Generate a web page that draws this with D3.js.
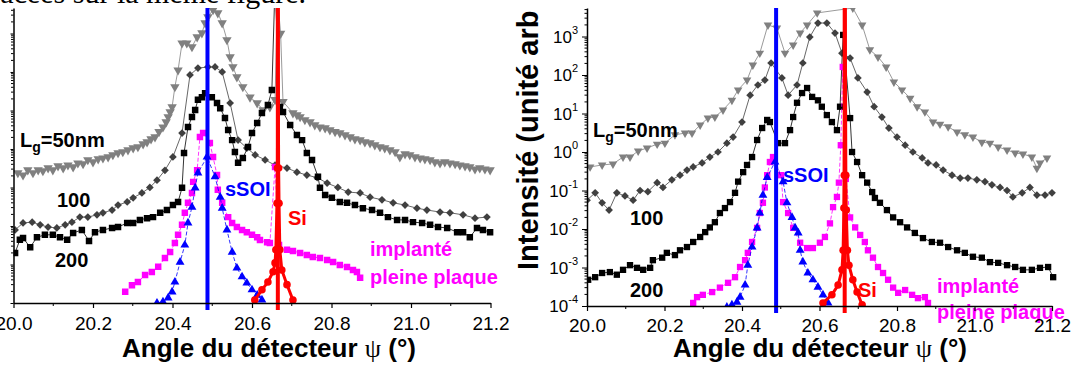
<!DOCTYPE html>
<html><head><meta charset="utf-8">
<script src="https://cdn.jsdelivr.net/npm/d3@7"></script>
<style>body{margin:0;background:#fff}svg{display:block}</style>
</head><body>
<svg id="c" width="1075" height="367"></svg>
<script>
// ---------- DATA ----------
const xMajor = [20.0, 20.2, 20.4, 20.6, 20.8, 21.0, 21.2];
const xMinor = [20.1, 20.3, 20.5, 20.7, 20.9, 21.1];
const yMajor = [1e-4, 1e-3, 1e-2, 1e-1, 1e0, 1e1, 1e2, 1e3];
const yExpLabels = ["-4", "-3", "-2", "-1", "0", "1", "2", "3"];
const sSOIRef = 20.488;
const siRef = 20.665;

// Left panel
const leftLg50 = [[20.011,0.24],[20.024,0.21],[20.036,0.285],[20.049,0.24],[20.062,0.285],[20.074,0.27],[20.087,0.32],[20.099,0.285],[20.112,0.36],[20.125,0.32],[20.137,0.38],[20.150,0.34],[20.162,0.43],[20.175,0.41],[20.187,0.52],[20.200,0.46],[20.213,0.55],[20.225,0.58],[20.238,0.62],[20.250,0.70],[20.263,0.79],[20.275,0.84],[20.288,0.94],[20.301,1.06],[20.313,1.13],[20.326,1.35],[20.336,1.52],[20.346,1.82],[20.356,2.05],[20.366,2.8],[20.376,3.7],[20.384,5.0],[20.389,6.8],[20.394,9.1],[20.399,12.3],[20.406,41],[20.414,112],[20.424,560],[20.436,560],[20.449,450],[20.462,810],[20.474,1030],[20.482,1870],[20.489,2700],[20.502,4100],[20.514,3400],[20.525,1870],[20.537,680],[20.545,245],[20.552,135],[20.562,74],[20.577,41],[20.595,22],[20.613,15.6],[20.628,10.3],[20.645,12.3],[20.658,19],[20.664,9000],[20.672,1000],[20.678,17],[20.703,8.6],[20.713,7.6],[20.721,6.8],[20.733,5.7],[20.746,5.0],[20.758,4.2],[20.771,3.7],[20.784,3.5],[20.796,3.1],[20.809,2.8],[20.821,2.6],[20.834,2.3],[20.847,2.05],[20.859,1.82],[20.872,1.71],[20.884,1.52],[20.897,1.43],[20.909,1.27],[20.922,1.13],[20.934,1.06],[20.947,0.94],[20.960,0.84],[20.972,0.62],[20.985,0.74],[20.997,0.70],[21.010,0.62],[21.023,0.58],[21.035,0.55],[21.048,0.52],[21.060,0.46],[21.073,0.43],[21.085,0.46],[21.098,0.43],[21.111,0.41],[21.123,0.38],[21.136,0.36],[21.148,0.34],[21.161,0.30],[21.173,0.32],[21.186,0.30],[21.199,0.285]];
const leftL100 = [[20.004,0.0079],[20.024,0.012],[20.047,0.0126],[20.067,0.0107],[20.087,0.0094],[20.109,0.0089],[20.130,0.0107],[20.147,0.0126],[20.167,0.017],[20.187,0.017],[20.210,0.0195],[20.225,0.022],[20.248,0.026],[20.263,0.035],[20.286,0.042],[20.301,0.054],[20.323,0.072],[20.343,0.10],[20.361,0.155],[20.381,0.28],[20.401,0.62],[20.424,2.6],[20.444,84],[20.464,126],[20.489,135],[20.507,135],[20.525,100],[20.545,15.6],[20.565,1.7],[20.587,1.06],[20.608,0.70],[20.633,0.52],[20.658,0.38],[20.688,0.32],[20.713,0.25],[20.738,0.21],[20.764,0.18],[20.789,0.13],[20.816,0.10],[20.842,0.076],[20.872,0.072],[20.897,0.056],[20.927,0.048],[20.955,0.040],[20.985,0.035],[21.015,0.029],[21.040,0.026],[21.073,0.023],[21.098,0.022],[21.131,0.0195],[21.161,0.016],[21.191,0.017]];
const leftL200 = [[20.004,0.0020],[20.016,0.0044],[20.024,0.0049],[20.042,0.0028],[20.059,0.0051],[20.079,0.0059],[20.099,0.0059],[20.117,0.0051],[20.135,0.0044],[20.150,0.0066],[20.172,0.0079],[20.190,0.0041],[20.205,0.0069],[20.225,0.0079],[20.248,0.0089],[20.263,0.0094],[20.286,0.012],[20.301,0.012],[20.318,0.0144],[20.336,0.016],[20.351,0.017],[20.369,0.022],[20.386,0.026],[20.401,0.035],[20.414,0.042],[20.424,0.098],[20.429,0.79],[20.439,3.7],[20.449,6.8],[20.457,10.3],[20.464,19],[20.474,22],[20.482,28],[20.499,22],[20.512,15.6],[20.520,11.5],[20.532,6.4],[20.540,3.1],[20.550,1.7],[20.557,0.83],[20.565,0.44],[20.577,0.58],[20.590,1.13],[20.600,2.6],[20.613,4.7],[20.625,8.6],[20.640,13.8],[20.650,34],[20.658,20000],[20.670,12.3],[20.678,9.1],[20.696,4.2],[20.713,2.3],[20.726,1.7],[20.738,0.79],[20.751,0.52],[20.766,0.19],[20.771,0.098],[20.784,0.064],[20.801,0.054],[20.821,0.042],[20.839,0.040],[20.859,0.035],[20.879,0.029],[20.902,0.026],[20.922,0.022],[20.942,0.017],[20.965,0.0144],[20.985,0.0144],[21.005,0.0126],[21.028,0.012],[21.048,0.0107],[21.068,0.0094],[21.091,0.0089],[21.116,0.0069],[21.131,0.0069],[21.148,0.0051],[21.166,0.0089],[21.181,0.0079],[21.199,0.0069]];
const leftImplant = [[20.281,1.95e-4],[20.298,2.9e-4],[20.313,3.5e-4],[20.331,5.3e-4],[20.348,6.4e-4],[20.364,8.7e-4],[20.381,1.47e-3],[20.394,2.1e-3],[20.406,3.6e-3],[20.414,5.9e-3],[20.424,0.0107],[20.431,0.022],[20.439,0.040],[20.449,0.072],[20.452,0.14],[20.462,0.28],[20.469,2.05],[20.477,2.6],[20.494,1.43],[20.502,0.62],[20.512,0.21],[20.514,0.087],[20.525,0.040],[20.540,0.017],[20.550,0.012],[20.562,0.0094],[20.575,0.0079],[20.587,0.0069],[20.600,0.0059],[20.613,0.0051],[20.620,0.0043],[20.638,0.0038],[20.645,0.0036],[20.658,0.34],[20.668,0.0032],[20.688,0.0024],[20.703,0.00224],[20.721,0.0020],[20.738,0.00177],[20.753,0.00157],[20.771,0.00148],[20.789,0.00131],[20.804,0.00116],[20.821,0.00097],[20.839,0.00086],[20.854,0.00072],[20.864,0.00064],[20.872,0.00045]];
const leftSSOI = [[20.361,1.0e-4],[20.376,1.07e-4],[20.389,1.35e-4],[20.399,1.95e-4],[20.406,3.5e-4],[20.419,1.15e-3],[20.431,3.2e-3],[20.439,0.012],[20.449,0.031],[20.457,0.098],[20.464,0.24],[20.487,0.62],[20.507,0.19],[20.520,0.056],[20.525,0.029],[20.537,0.0079],[20.550,0.0021],[20.562,8.1e-4],[20.575,4.8e-4],[20.587,3.3e-4],[20.600,2.2e-4],[20.613,1.6e-4],[20.625,1.2e-4]];
const leftSi = [[20.607,1.2e-4],[20.625,2.2e-4],[20.640,3.5e-4],[20.653,6.5e-4],[20.658,1.1e-3],[20.660,2.4e-3],[20.663,0.039],[20.664,0.32],[20.665,1e5],[20.667,0.32],[20.668,0.039],[20.670,2.4e-3],[20.675,7.2e-4],[20.688,3e-4],[20.703,1.2e-4]];

// Right panel
const rightLg50 = [[20.008,0.41],[20.039,0.46],[20.067,0.49],[20.093,0.74],[20.111,0.74],[20.132,1.06],[20.155,1.27],[20.181,1.6],[20.201,1.7],[20.227,2.8],[20.253,3.1],[20.271,3.1],[20.292,5.0],[20.312,7.6],[20.330,8.1],[20.351,12.3],[20.374,22],[20.390,41],[20.413,74],[20.428,182],[20.446,370],[20.467,2000],[20.490,1660],[20.511,370],[20.532,600],[20.550,1230],[20.568,2000],[20.594,4100],[20.686,5500],[20.710,2000],[20.730,450],[20.751,295],[20.772,162],[20.792,66],[20.813,41],[20.834,25],[20.852,15],[20.872,11],[20.893,6.0],[20.911,5.3],[20.932,4.5],[20.955,3.3],[20.975,2.8],[20.996,2.45],[21.019,1.8],[21.040,1.7],[21.061,1.35],[21.084,1.13],[21.105,0.94],[21.125,0.89],[21.148,0.74],[21.161,0.38],[21.169,0.52],[21.187,0.70]];
const rightL100 = [[20.000,0.056],[20.021,0.087],[20.039,0.048],[20.057,0.031],[20.077,0.087],[20.098,0.072],[20.119,0.056],[20.137,0.10],[20.157,0.093],[20.181,0.16],[20.196,0.12],[20.219,0.19],[20.240,0.25],[20.258,0.34],[20.274,0.41],[20.297,0.52],[20.317,0.74],[20.338,1.0],[20.361,1.7],[20.377,2.45],[20.400,6.0],[20.421,30],[20.441,55],[20.459,74],[20.475,205],[20.503,84],[20.519,30],[20.542,55],[20.557,205],[20.575,970],[20.596,2240],[20.619,2240],[20.640,1230],[20.658,370],[20.679,275],[20.699,84],[20.723,36],[20.741,15],[20.761,8.1],[20.779,4.2],[20.800,2.45],[20.821,1.5],[20.841,1.0],[20.865,0.70],[20.880,0.52],[20.901,0.46],[20.919,0.34],[20.942,0.25],[20.963,0.21],[20.983,0.21],[21.006,0.19],[21.027,0.17],[21.045,0.14],[21.066,0.12],[21.084,0.10],[21.099,0.068],[21.123,0.087],[21.143,0.12],[21.161,0.076],[21.182,0.076],[21.200,0.087]];
const rightL200 = [[20.003,4.8e-4],[20.021,5.6e-4],[20.039,7.2e-4],[20.059,7.6e-4],[20.077,6.5e-4],[20.093,8.7e-4],[20.111,1.15e-3],[20.129,9.8e-4],[20.145,8.7e-4],[20.163,9.8e-4],[20.170,1.55e-3],[20.194,1.8e-3],[20.206,2.4e-3],[20.227,2.1e-3],[20.240,2.8e-3],[20.258,3.4e-3],[20.274,4.6e-3],[20.292,6.2e-3],[20.305,8.3e-3],[20.317,0.011],[20.330,0.015],[20.343,0.026],[20.356,0.035],[20.369,0.050],[20.382,0.087],[20.390,0.17],[20.403,0.30],[20.413,0.46],[20.426,0.74],[20.439,2.05],[20.452,4.2],[20.465,6.8],[20.472,6.0],[20.493,1.7],[20.511,1.7],[20.524,3.7],[20.532,8.1],[20.542,19],[20.555,34],[20.568,46],[20.581,27],[20.596,22],[20.606,15],[20.619,9.1],[20.632,6.0],[20.645,3.7],[20.653,15],[20.661,1100],[20.679,7.6],[20.684,1.0],[20.697,0.55],[20.710,0.25],[20.723,0.16],[20.736,0.091],[20.743,0.064],[20.756,0.048],[20.774,0.031],[20.790,0.020],[20.808,0.015],[20.826,0.011],[20.846,0.0079],[20.867,0.0058],[20.890,0.0046],[20.911,0.0044],[20.932,0.0034],[20.955,0.0028],[20.975,0.0024],[20.996,0.0019],[21.019,0.0018],[21.040,0.00138],[21.061,0.00132],[21.084,0.00115],[21.105,0.00103],[21.125,0.00087],[21.148,0.00087],[21.169,0.00098],[21.190,0.00103],[21.203,0.00056]];
const rightImplant = [[20.274,1.2e-4],[20.284,1.7e-4],[20.299,1.95e-4],[20.323,2.3e-4],[20.343,3.0e-4],[20.364,4.0e-4],[20.382,5.6e-4],[20.395,1.03e-3],[20.408,1.55e-3],[20.415,2.4e-3],[20.426,4.6e-3],[20.439,0.0107],[20.446,0.026],[20.454,0.048],[20.459,0.12],[20.465,0.25],[20.472,0.55],[20.480,0.74],[20.501,0.25],[20.506,0.050],[20.519,0.026],[20.532,0.0107],[20.550,0.0044],[20.568,0.0032],[20.583,0.0032],[20.601,0.0044],[20.614,0.0062],[20.627,0.014],[20.635,0.037],[20.645,0.068],[20.650,0.16],[20.655,1.5],[20.660,162],[20.668,0.2],[20.679,0.020],[20.692,0.011],[20.705,0.0070],[20.717,0.0046],[20.725,0.0028],[20.738,0.0018],[20.751,0.00103],[20.764,0.00072],[20.777,0.00048],[20.790,0.0003],[20.803,0.00022],[20.821,0.00026],[20.839,0.000195],[20.854,0.00016],[20.872,0.00017],[20.880,0.00012]];
const rightSSOI = [[20.361,9.3e-5],[20.374,1.07e-4],[20.387,1.26e-4],[20.395,1.7e-4],[20.408,3.5e-4],[20.415,1.15e-3],[20.426,3.4e-3],[20.439,0.0107],[20.446,0.026],[20.454,0.076],[20.465,0.22],[20.485,0.55],[20.506,0.17],[20.516,0.048],[20.529,0.020],[20.537,0.0107],[20.545,0.0079],[20.550,0.0028],[20.557,0.0014],[20.570,7.2e-4],[20.583,4.8e-4],[20.596,3.1e-4],[20.609,1.95e-4],[20.622,1.2e-4]];
const rightSi = [[20.609,1.2e-4],[20.632,1.95e-4],[20.648,3.5e-4],[20.658,8.7e-4],[20.661,2.8e-3],[20.663,0.035],[20.664,0.25],[20.666,1e5],[20.668,0.25],[20.669,0.031],[20.672,2.8e-3],[20.676,1.15e-3],[20.686,4.8e-4],[20.697,2.3e-4],[20.710,1.07e-4]];

// ---------- DRAWING ----------
const svg = d3.select("#c");
const SANS = "'Liberation Sans', Arial, Helvetica, sans-serif";
const SERIF = "'Liberation Serif', 'Times New Roman', serif";

// document text cropped at top
svg.append("text").attr("x", 306).attr("y", 3).attr("text-anchor", "end")
  .attr("font-family", SERIF).attr("font-size", 30).text("tracées sur la même figure.");

const stylesL = {
  lg50: {type: d3.symbolTriangle, size: 38, rot: 180, color: "#808080", lw: 0.8},
  l100: {type: d3.symbolSquare, size: 30, rot: 45, color: "#404040", lw: 0.8},
  l200: {type: d3.symbolSquare, size: 42, rot: 0, color: "#000000", lw: 0.8},
  impl: {type: d3.symbolSquare, size: 42, rot: 0, color: "#ff00ff", lw: 0.8, dash: "4,2"},
  ssoi: {type: d3.symbolTriangle, size: 34, rot: 0, color: "#0000ff", lw: 0.8, dash: "4,2"},
  si:   {type: d3.symbolCircle, size: 45, rot: 0, color: "#ff0000", lw: 3}
};
const stylesR = {
  lg50: {type: d3.symbolTriangle, size: 32, rot: 180, color: "#808080", lw: 0.8},
  l100: {type: d3.symbolSquare, size: 30, rot: 45, color: "#404040", lw: 0.8},
  l200: {type: d3.symbolSquare, size: 40, rot: 0, color: "#000000", lw: 0.8},
  impl: {type: d3.symbolSquare, size: 40, rot: 0, color: "#ff00ff", lw: 0.8, dash: "4,2"},
  ssoi: {type: d3.symbolTriangle, size: 34, rot: 0, color: "#0000ff", lw: 0.8, dash: "4,2"},
  si:   {type: d3.symbolCircle, size: 45, rot: 0, color: "#ff0000", lw: 3}
};

function drawPanel(p) {
  const x = d3.scaleLinear().domain([20, 21.2]).range([p.x0, p.x1]);
  const y = d3.scaleLog().domain(p.yDomain).range([p.yBot, p.yTop]);
  const cid = "clip" + p.id;
  svg.append("clipPath").attr("id", cid).append("rect")
    .attr("x", p.x0).attr("y", p.yTop).attr("width", p.x1 - p.x0 + 6).attr("height", p.yBot - p.yTop);
  const g = svg.append("g");
  const plot = g.append("g").attr("clip-path", `url(#${cid})`);
  const line = d3.line().x(d => x(d[0])).y(d => y(d[1]));
  p.series.forEach(([data, st]) => {
    plot.append("path").attr("d", line(data)).attr("fill", "none")
      .attr("stroke", st.color).attr("stroke-width", st.lw).attr("stroke-dasharray", st.dash || null);
    const sym = d3.symbol().type(st.type).size(st.size);
    plot.append("g").selectAll("path").data(data).join("path")
      .attr("transform", d => `translate(${x(d[0])},${y(d[1])}) rotate(${st.rot})`)
      .attr("d", sym).attr("fill", st.color);
  });

  // labels
  const lab = (tx, ty, txt, col) => g.append("text").attr("x", tx).attr("y", ty)
    .attr("font-family", SANS).attr("font-weight", "bold").attr("font-size", 20).attr("fill", col).text(txt);
  const lg = g.append("text").attr("x", p.lab.lg[0]).attr("y", p.lab.lg[1])
    .attr("font-family", SANS).attr("font-weight", "bold").attr("font-size", 20);
  lg.append("tspan").text("L");
  lg.append("tspan").attr("dy", 5).attr("font-size", 14).text("g");
  lg.append("tspan").attr("dy", -5).text("=50nm");
  lab(p.lab.l100[0], p.lab.l100[1], "100", "#000");
  lab(p.lab.l200[0], p.lab.l200[1], "200", "#000");
  lab(p.lab.ssoi[0], p.lab.ssoi[1], "sSOI", "#0000ff");
  lab(p.lab.si[0], p.lab.si[1], "Si", "#ff0000");
  lab(p.lab.impl[0], p.lab.impl[1], "implanté", "#ff00ff");
  lab(p.lab.impl2[0], p.lab.impl2[1], "pleine plaque", "#ff00ff");

  // reference lines
  g.append("line").attr("x1", x(sSOIRef)).attr("x2", x(sSOIRef)).attr("y1", p.yTop).attr("y2", p.yBot + 7)
    .attr("stroke", "#0000ff").attr("stroke-width", 4);
  g.append("line").attr("x1", x(siRef)).attr("x2", x(siRef)).attr("y1", p.yTop).attr("y2", p.yBot + 7)
    .attr("stroke", "#ff0000").attr("stroke-width", 4);

  // x axis
  const ax = g.append("g").attr("transform", `translate(0,${p.yBot})`)
    .call(d3.axisBottom(x).tickValues(xMajor).tickFormat(d3.format(".1f")).tickSize(5).tickSizeOuter(0).tickPadding(p.xPad));
  ax.select(".domain").attr("stroke-width", 1.5);
  ax.selectAll(".tick line").attr("stroke-width", 1.2);
  ax.selectAll("text").attr("font-family", SANS).attr("font-size", 19).attr("fill", "#000");
  ax.selectAll(".minor").data(xMinor).join("line").attr("class", "minor")
    .attr("x1", d => x(d)).attr("x2", d => x(d)).attr("y1", 0).attr("y2", 3).attr("stroke", "#000").attr("stroke-width", 1);

  // y axis
  const ay = g.append("g").attr("transform", `translate(${p.x0},0)`)
    .call(d3.axisLeft(y).tickValues(yMajor.filter(v => v <= p.yDomain[1])).tickFormat("").tickSize(p.yTick).tickSizeOuter(0));
  ay.select(".domain").attr("stroke-width", 1.5);
  const minors = [];
  for (let k = -4; k <= 3; k++) for (let m = 2; m <= 9; m++) { const v = m * Math.pow(10, k); if (v < p.yDomain[1]) minors.push(v); }
  ay.selectAll(".minor").data(minors).join("line").attr("class", "minor")
    .attr("x1", 0).attr("x2", -2.5).attr("y1", d => y(d)).attr("y2", d => y(d)).attr("stroke", "#000").attr("stroke-width", 1);
  if (p.yLabels) {
    yMajor.forEach((v, i) => {
      const t = g.append("text").attr("x", p.x0 - 9).attr("y", y(v) + 6).attr("text-anchor", "end")
        .attr("font-family", SANS).attr("font-size", 17).attr("fill", "#000");
      t.append("tspan").text("10");
      t.append("tspan").attr("dy", -9).attr("font-size", 11).text(yExpLabels[i]);
    });
  }

  // x title
  const xt = g.append("text").attr("x", p.xTitle[0]).attr("y", p.xTitle[1]).attr("text-anchor", "middle")
    .attr("font-family", SANS).attr("font-weight", "bold").attr("font-size", 26);
  xt.append("tspan").text("Angle du détecteur ");
  xt.append("tspan").attr("font-family", SERIF).attr("font-weight", "normal").text("ψ");
  xt.append("tspan").text(" (°)");
}

drawPanel({
  id: "L", x0: 13.5, x1: 490.5, yTop: 8, yBot: 303, yDomain: [1e-4, 4590], xPad: 9, yLabels: false, yTick: 3,
  xTitle: [269, 357],
  series: [[leftLg50, stylesL.lg50], [leftL100, stylesL.l100], [leftL200, stylesL.l200],
           [leftImplant, stylesL.impl], [leftSSOI, stylesL.ssoi], [leftSi, stylesL.si]],
  lab: {lg: [20, 147], l100: [57, 207], l200: [55, 267], ssoi: [225, 196], si: [288, 225], impl: [370, 256], impl2: [370, 284]}
});
drawPanel({
  id: "R", x0: 587, x1: 1052, yTop: 8, yBot: 306, yDomain: [1e-4, 5500], xPad: 8, yLabels: true, yTick: 5,
  xTitle: [820, 357],
  series: [[rightLg50, stylesR.lg50], [rightL100, stylesR.l100], [rightL200, stylesR.l200],
           [rightImplant, stylesR.impl], [rightSSOI, stylesR.ssoi], [rightSi, stylesR.si]],
  lab: {lg: [593, 137], l100: [630, 225], l200: [630, 297], ssoi: [783, 182], si: [858, 297], impl: [937, 293], impl2: [937, 319]}
});

// y title (right panel), cropped at the figure's top edge like the reference
svg.append("clipPath").attr("id", "clipTitle").append("rect")
  .attr("x", 490).attr("y", 9).attr("width", 70).attr("height", 300);
svg.append("g").attr("clip-path", "url(#clipTitle)")
  .append("text").attr("transform", "translate(538,270) rotate(-90)")
  .attr("font-family", SANS).attr("font-weight", "bold").attr("font-size", 29).text("Intensité (unité arb.)");
</script>
</body></html>
